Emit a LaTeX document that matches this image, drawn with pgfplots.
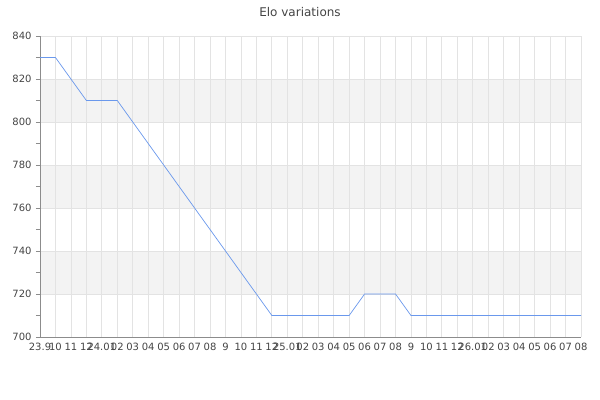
\documentclass[border=0pt]{standalone}
\usepackage{fontspec}
\setmainfont{DejaVu Sans}
\usepackage{pgfplots}
\pgfplotsset{compat=1.18}

\definecolor{elo}{HTML}{6A98EC}
\definecolor{gridc}{HTML}{E3E3E3}
\definecolor{band}{HTML}{F3F3F3}
\definecolor{axisc}{HTML}{8C8C8C}
\definecolor{txt}{HTML}{444444}

\begin{document}
\begin{tikzpicture}
  \begin{axis}[
      set layers,
      scale only axis,
      width=541bp, height=301bp,
      xmin=0, xmax=35,
      ymin=700, ymax=840,
      enlargelimits=false,
      axis x line=bottom, axis y line=left,
      axis line style={-, axisc, line width=0.8bp},
      xtick={0,...,35},
      xticklabels={23.9,10,11,12,24.01,02,03,04,05,06,07,08,9,10,11,12,
                   25.01,02,03,04,05,06,07,08,9,10,11,12,
                   26.01,02,03,04,05,06,07,08},
      x tick style={draw=none},
      ytick={700,720,...,840},
      minor ytick={710,730,...,830},
      y tick style={axisc, line width=0.8bp},
      tick align=outside,
      major tick length=4bp, minor tick length=4bp,
      xmajorgrids, ymajorgrids,
      major grid style={gridc, line width=0.8bp},
      minor grid style={draw=none},
      /pgf/number format/assume math mode=true,
      /pgf/number format/1000 sep={},
      tick label style={font=\fontsize{10bp}{12bp}\selectfont, text=txt},
      yticklabel style={xshift=-1bp},
      xticklabel style={yshift=1bp},
    ]

    % alternating background bands
    \addplot[draw=none, fill=band, on layer=axis background]
      coordinates {(0,800) (35,800) (35,820) (0,820)} -- cycle;
    \addplot[draw=none, fill=band, on layer=axis background]
      coordinates {(0,760) (35,760) (35,780) (0,780)} -- cycle;
    \addplot[draw=none, fill=band, on layer=axis background]
      coordinates {(0,720) (35,720) (35,740) (0,740)} -- cycle;

    % Elo series
    \addplot[elo, line width=0.7bp, mark=none] table {
      x  y
      0  830
      1  830
      2  820
      3  810
      4  810
      5  810
      6  800
      7  790
      8  780
      9  770
      10 760
      11 750
      12 740
      13 730
      14 720
      15 710
      16 710
      17 710
      18 710
      19 710
      20 710
      21 720
      22 720
      23 720
      24 710
      25 710
      26 710
      27 710
      28 710
      29 710
      30 710
      31 710
      32 710
      33 710
      34 710
      35 710
    };
  \end{axis}

  \node[text=txt, font=\fontsize{12bp}{14bp}\selectfont] at (260bp,325bp) {Elo variations};

  % page: 600 x 400 px, axis box lower left at (40,337) px
  \pgfresetboundingbox
  \useasboundingbox (-40bp,-63bp) rectangle (560bp,337bp);
\end{tikzpicture}
\end{document}
